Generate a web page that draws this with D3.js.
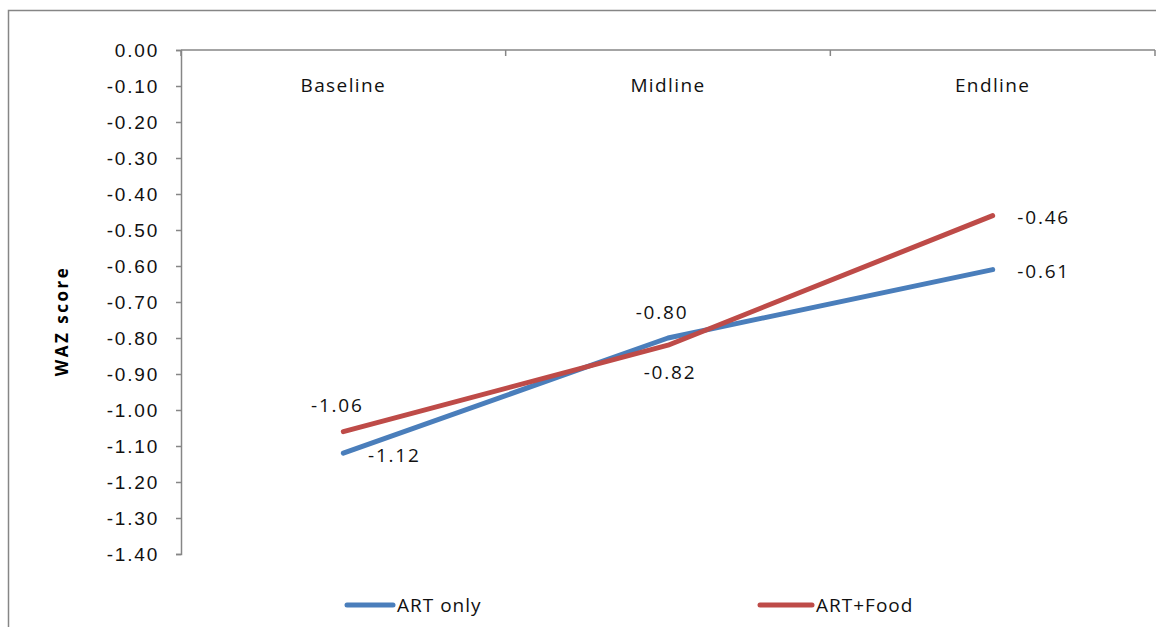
<!DOCTYPE html>
<html>
<head>
<meta charset="utf-8">
<script src="https://cdn.jsdelivr.net/npm/d3@7"></script>
<style>
  html, body { margin: 0; padding: 0; background: #fff; }
  svg { display: block; font-family: "Open Sans", sans-serif; }
</style>
</head>
<body>
<svg id="chart" width="1156" height="627"></svg>
<script>
// ---- data ----
const categories = ["Baseline", "Midline", "Endline"];
const seriesNames = ["ART only", "ART+Food"];
const artOnly = [-1.12, -0.80, -0.61];
const artFood = [-1.06, -0.82, -0.46];
const artOnlyLabelPos = ["right", "above", "right"];
const artFoodLabelPos = ["above", "below", "right"];
const yTicks = [0, -0.1, -0.2, -0.3, -0.4, -0.5, -0.6, -0.7, -0.8, -0.9, -1.0, -1.1, -1.2, -1.3, -1.4];
const yTitle = "WAZ score";

const colors = ["#4A7EBB", "#BE4B48"];
const axisColor = "#868686";
const textColor = "#111";
const fmt = v => d3.format(".2f")(v).replace("\u2212", "-");

const svg = d3.select("#chart");

// outer chart border
svg.append("rect")
  .attr("x", 8.5).attr("y", 10.5)
  .attr("width", 1200).attr("height", 700)
  .attr("fill", "none").attr("stroke", axisColor).attr("stroke-width", 1.5);

const pLeft = 181, pRight = 1155, pTop = 50, pBottom = 554;

const x = d3.scaleBand().domain(categories).range([pLeft, pRight]).padding(0);
const y = d3.scaleLinear().domain([0, -1.4]).range([pTop, pBottom]);

// y axis
const yAxis = svg.append("g")
  .attr("transform", `translate(${pLeft},0)`)
  .call(d3.axisLeft(y).tickValues(yTicks).tickFormat(fmt).tickSize(5).tickPadding(17));
yAxis.select(".domain").attr("stroke", axisColor).attr("stroke-width", 1.5);
yAxis.selectAll(".tick line").attr("stroke", axisColor).attr("stroke-width", 1.5);
yAxis.selectAll(".tick text")
  .attr("fill", textColor)
  .style("font-size", "19px")
  .style("letter-spacing", "1.8px")
  .attr("dy", "0.35em");

// x axis at zero (top)
const xAxis = svg.append("g")
  .attr("transform", `translate(0,${y(0)})`);
xAxis.append("line")
  .attr("x1", pLeft).attr("x2", pRight)
  .attr("stroke", axisColor).attr("stroke-width", 1.5);
const boundaries = categories.map(c => x(c)).concat([pRight]);
xAxis.selectAll("line.tk").data(boundaries).join("line")
  .attr("class", "tk")
  .attr("x1", d => d).attr("x2", d => d)
  .attr("y1", 0).attr("y2", 6)
  .attr("stroke", axisColor).attr("stroke-width", 1.5);
xAxis.selectAll("text").data(categories).join("text")
  .attr("x", d => x(d) + x.bandwidth() / 2)
  .attr("y", 35)
  .attr("dy", "0.35em")
  .attr("text-anchor", "middle")
  .attr("fill", textColor)
  .style("font-size", "19px")
  .style("letter-spacing", "1.4px")
  .text(d => d);

// y title
svg.append("text")
  .attr("transform", `translate(68,321) rotate(-90)`)
  .attr("text-anchor", "middle")
  .attr("fill", "#000")
  .style("font-size", "17px")
  .style("font-weight", "bold")
  .style("letter-spacing", "2.5px")
  .text(yTitle);

// lines
const series = [
  { name: seriesNames[0], values: artOnly, pos: artOnlyLabelPos, color: colors[0] },
  { name: seriesNames[1], values: artFood, pos: artFoodLabelPos, color: colors[1] }
];
const line = d3.line()
  .x((d, i) => x(categories[i]) + x.bandwidth() / 2)
  .y(d => y(d));

series.forEach(s => {
  svg.append("path")
    .datum(s.values)
    .attr("d", line)
    .attr("fill", "none")
    .attr("stroke", s.color)
    .attr("stroke-width", 5)
    .attr("stroke-linecap", "round")
    .attr("stroke-linejoin", "round");
});

// data labels
const offsets = { above: [-6, -26], below: [2, 27], right: [51, 2] };
series.forEach(s => {
  svg.append("g").selectAll("text").data(s.values).join("text")
    .attr("x", (d, i) => x(categories[i]) + x.bandwidth() / 2 + offsets[s.pos[i]][0])
    .attr("y", (d, i) => y(d) + offsets[s.pos[i]][1])
    .attr("dy", "0.35em")
    .attr("text-anchor", "middle")
    .attr("fill", textColor)
    .style("font-size", "19px")
    .style("letter-spacing", "1.8px")
    .text(d => fmt(d));
});

// legend
const legendX = [347, 760];
const legendLen = [46, 52];
series.forEach((s, i) => {
  const g = svg.append("g");
  g.append("line")
    .attr("x1", legendX[i]).attr("x2", legendX[i] + legendLen[i])
    .attr("y1", 605).attr("y2", 605)
    .attr("stroke", s.color).attr("stroke-width", 5)
    .attr("stroke-linecap", "round");
  g.append("text")
    .attr("x", legendX[i] + legendLen[i] + 4)
    .attr("y", 605)
    .attr("dy", "0.35em")
    .attr("fill", textColor)
    .style("font-size", "19px")
    .style("letter-spacing", "1px")
    .text(s.name);
});
</script>
</body>
</html>
